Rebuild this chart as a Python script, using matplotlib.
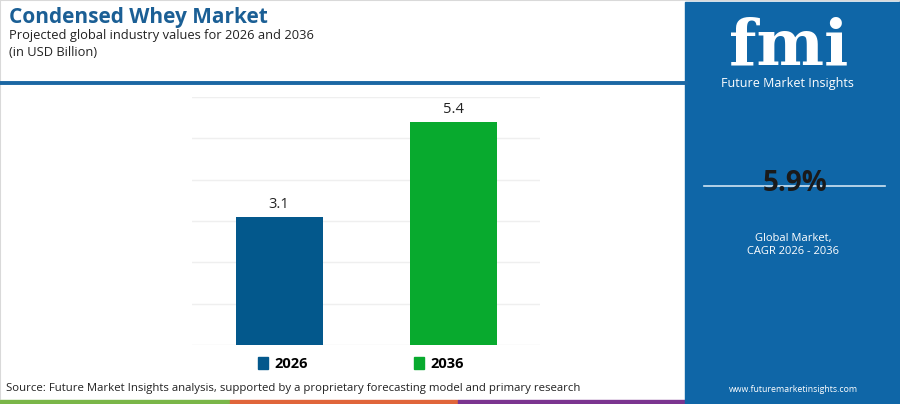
import matplotlib.pyplot as plt
from matplotlib.patches import Rectangle

# chart data
years = ["2026", "2036"]
values = [3.1, 5.4]
bar_colors = ["#03588c", "#08aa2e"]
cagr = "5.9%"

title = "Condensed Whey Market"
subtitle = "Projected global industry values for 2026 and 2036"
unit = "(in USD Billion)"
source = "Source: Future Market Insights analysis, supported by a proprietary forecasting model and primary research"

W, H = 900, 404
fig = plt.figure(figsize=(W / 100, H / 100), dpi=100)
fig.patch.set_facecolor("white")
plt.rcParams["font.family"] = ["Open Sans", "DejaVu Sans"]

def fx(px):
    return px / W

def fy(py):
    return 1 - py / H

# frame + header
fig.patches.append(Rectangle((0, 0), 1, 1, transform=fig.transFigure, fill=False,
                             edgecolor="#d9d9d9", linewidth=1.5))
fig.text(fx(9), fy(18), title, fontsize=15, fontweight="bold", color="#1b5f95",
         va="center", ha="left")
fig.text(fx(9), fy(35), subtitle, fontsize=9.3, color="#222222", va="center", ha="left")
fig.text(fx(9), fy(53), unit, fontsize=9.3, color="#222222", va="center", ha="left")
fig.add_artist(plt.Line2D([0, fx(686)], [fy(83), fy(83)], transform=fig.transFigure,
                          color="#1b67a3", linewidth=2.8))

# bar chart
ax = fig.add_axes([fx(192), fy(345), fx(540) - fx(192), fy(97) - fy(345)])
x = range(len(years))
ax.bar(x, values, width=0.5, color=bar_colors, zorder=3)
for i, v in enumerate(values):
    ax.text(i, v + 0.12, f"{v}", ha="center", va="bottom", fontsize=10.5, color="#222222")
ax.set_xlim(-0.5, 1.5)
ax.set_ylim(0, 6)
ax.set_yticks(range(0, 7))
ax.yaxis.grid(True, color="#efefef", linewidth=1)
ax.set_axisbelow(True)
ax.set_xticks([])
ax.tick_params(left=False, labelleft=False)
for s in ax.spines.values():
    s.set_visible(False)

# legend
handles = [Rectangle((0, 0), 1, 1, color=c) for c in bar_colors]
leg = fig.legend(handles, years, loc="center", bbox_to_anchor=(fx(361), fy(364)),
                 ncol=2, frameon=False, handlelength=0.7, handleheight=0.9,
                 columnspacing=7.3, handletextpad=0.4,
                 prop={"weight": "bold", "size": 10.5})

# source + bottom strips
fig.text(fx(6), fy(388), source, fontsize=8.2, color="#222222", va="center", ha="left")
for x0, x1, c in [(0, 230, "#7ab648"), (230, 458, "#e0653a"), (458, 686, "#7b3590")]:
    fig.patches.append(Rectangle((fx(x0), 0), fx(x1 - x0), fy(400), transform=fig.transFigure,
                                 color=c))

# right panel
fig.patches.append(Rectangle((fx(685), 0), fx(215), fy(2), transform=fig.transFigure,
                             color="#0f66a7"))
fig.text(fx(789), fy(47), "fmi", fontsize=46, fontweight="bold", family="DejaVu Serif",
         color="white", ha="center", va="center")
fig.text(fx(787), fy(83), "Future Market Insights", fontsize=9, color="white",
         ha="center", va="center")
fig.add_artist(plt.Line2D([fx(704), fx(885)], [fy(186), fy(186)], transform=fig.transFigure,
                          color="#d0e4f2", linewidth=1.2))
fig.text(fx(795), fy(184), cagr, fontsize=20, fontweight="bold", color="#1a1a1a",
         ha="center", va="center")
fig.text(fx(793), fy(238), "Global Market,", fontsize=8, color="white", ha="center", va="center")
fig.text(fx(793), fy(251), "CAGR 2026 - 2036", fontsize=8, color="white", ha="center", va="center")
fig.text(fx(793), fy(389), "www.futuremarketinsights.com", fontsize=6.3, color="white",
         ha="center", va="center")

fig.savefig("out.png", dpi=100)
